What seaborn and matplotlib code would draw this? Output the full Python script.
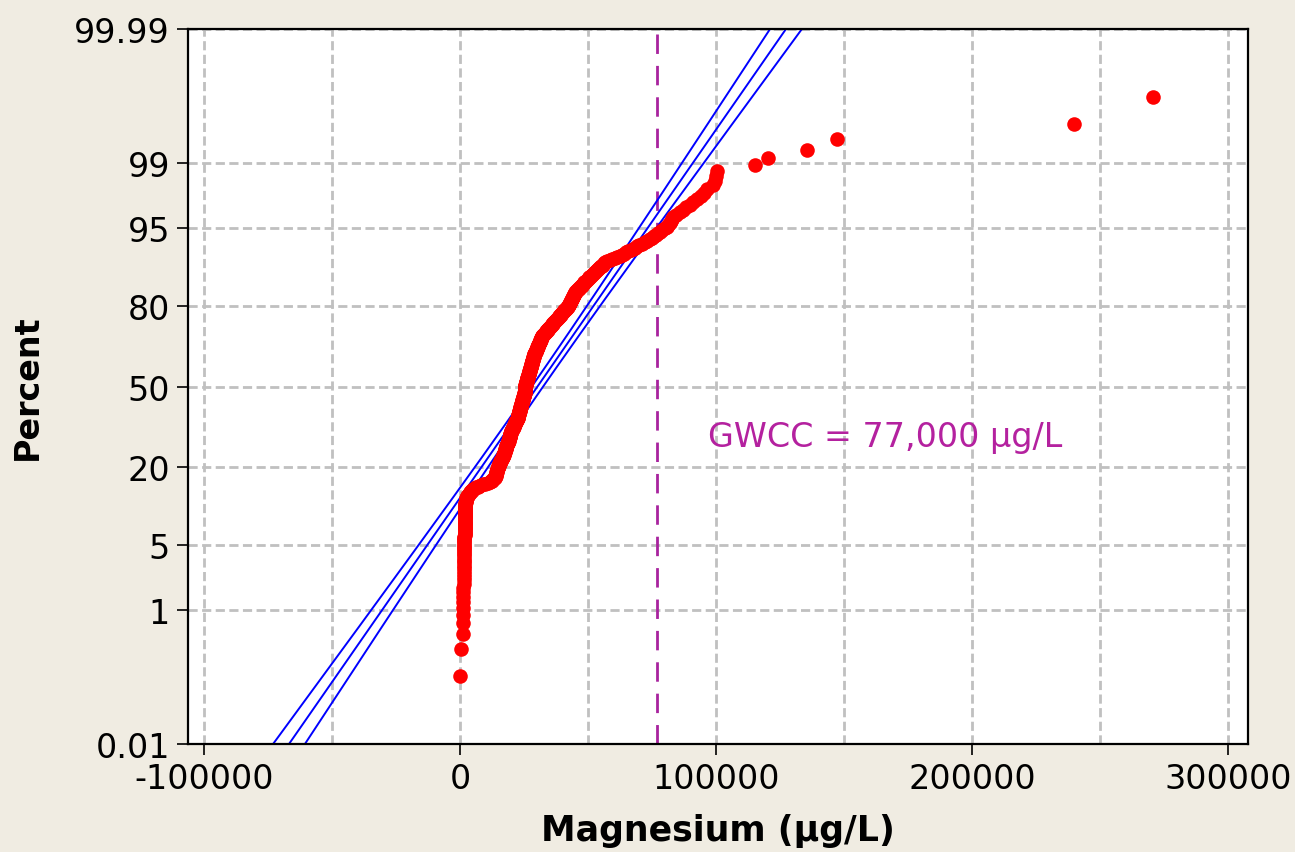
import numpy as np
import pandas as pd
import matplotlib
matplotlib.use("Agg")
import matplotlib.pyplot as plt
import seaborn as sns
from statistics import NormalDist
from matplotlib.ticker import FixedLocator, MultipleLocator

# ---------------- data (sorted magnesium concentrations, µg/L) ----------------
MG_VERTICAL = [0, 400, 1100,
    1200, 1200, 1250, 1300, 1300, 1300, 1350, 1400, 1400, 1400, 1400, 1450, 1450, 1500, 1500, 1500, 1500,
    1500, 1550, 1550, 1600, 1600, 1600, 1650, 1650, 1700, 1700,
    1700, 1700, 1750, 1750, 1750, 1800, 1800, 1800, 1800, 1850,
    1850, 1850, 1900, 1900, 1900, 1900, 1900, 1950, 1950, 1950,
    1950, 2000, 2000, 2000, 2000, 2000, 2000, 2050, 2050, 2100,
    2100, 2150, 2200, 2250, 2300, 2400]

MG_KNEE = [2600, 2800, 3000, 3200, 3500, 3700, 4000, 4200, 4500, 4800, 5100,
    5700, 6300, 7000, 7600, 8300, 9000,
    9900, 10800, 11700,
    12000, 12300, 12600, 12900, 13200, 13500, 13700,
    13800, 13900, 13950, 14000, 14100, 14150, 14200, 14300, 14400, 14450, 14500, 14600, 14700, 14800,
    14900, 15000, 15100, 15200, 15300, 15400, 15500, 15600, 15700, 15800, 15900, 16000, 16100, 16200,
    16300, 16500, 16600, 16800]

MG_CENTRAL = [16850, 16900, 17000, 17100, 17150, 17200, 17300, 17400, 17450, 17500,
    17600, 17650, 17700, 17800, 17850, 17900, 18000, 18050, 18100, 18200,
    18300, 18400, 18500, 18600, 18750,
    18800, 18850, 18900, 19000, 19050, 19100, 19150, 19200, 19300, 19350,
    19400, 19450, 19500, 19550, 19600, 19650, 19700, 19750, 19800, 19900,
    19950, 20000, 20100, 20200, 20300,
    20400, 20500, 20600, 20700, 20800, 20900, 21000, 21100, 21150, 21200,
    21300, 21400, 21500, 21550, 21600, 21700, 21800, 21900, 22000, 22100,
    22300,
    22350, 22400, 22450, 22500, 22550, 22600, 22650, 22700, 22750, 22800,
    22850, 22900, 22950, 23000, 23050, 23100, 23150, 23200, 23250, 23300,
    23350, 23400, 23450, 23500, 23550, 23600, 23650, 23700, 23750, 23800,
    23850, 23900, 23950, 24000, 24050, 24100, 24150, 24200, 24250, 24300,
    24350, 24400, 24450, 24500, 24550, 24600, 24650, 24700, 24750, 24800,
    24850, 24900, 24950, 25000, 25050, 25100, 25150, 25200, 25250, 25300,
    25300, 25300, 25350, 25350, 25350, 25350, 25400, 25400, 25400, 25400, 25400, 25400,
    25450, 25500, 25550, 25600, 25650, 25700, 25750, 25800, 25850, 25900,
    25950, 26000, 26050, 26100, 26150, 26200, 26250, 26300, 26350, 26400,
    26450, 26500, 26550, 26600, 26650, 26700, 26750, 26800, 26850, 26900,
    26950, 27000, 27050, 27100, 27150, 27200, 27300,
    27350, 27400, 27450, 27500, 27550, 27600, 27650, 27700, 27750, 27800,
    27850, 27900, 27950, 28000, 28050, 28100, 28150, 28200, 28250, 28300,
    28350, 28400, 28450, 28500, 28550, 28600, 28650, 28700, 28750, 28800,
    28850, 28900, 28950, 29000, 29100, 29200, 29300,
    29400, 29500, 29550, 29650, 29700, 29800, 29900, 30000, 30050, 30150,
    30250, 30300, 30400, 30500, 30550, 30650, 30750, 30800, 30900, 31000,
    31050, 31150, 31250, 31300, 31400, 31500, 31550, 31650, 31750, 31800,
    31850, 31900, 32000]

MG_UPPER = [32200, 32400, 32550, 32700, 32900, 33100, 33300, 33450, 33650, 33800,
    34000, 34200, 34400, 34550, 34750, 34900, 35100, 35300, 35450, 35650,
    35800, 36000, 36150, 36350, 36500, 36700,
    36900, 37100, 37300, 37500, 37700, 37900, 38150, 38350, 38550, 38750,
    38950, 39150, 39350, 39550, 39750, 40000, 40200,
    40400, 40600, 40800, 41000, 41200, 41400, 41600, 41800, 42000, 42200, 42400, 42600,
    42700, 42850, 42950, 43100, 43200, 43350, 43450, 43600, 43700, 43850,
    43950, 44100, 44200, 44350, 44450, 44600, 44750, 44900,
    45200, 45450, 45750, 46000, 46300, 46600, 46850, 47150, 47450, 47700, 48000,
    48300, 48600, 48950, 49250, 49550, 49850, 50200, 50500, 50800,
    51200, 51600, 52000, 52400, 52800, 53200, 53600, 54000, 54400, 54800, 55200, 55600, 55900, 56200, 56600,
    57500, 58500, 59500, 60500, 61500, 62500,
    63300, 64100, 65000, 65800, 66600, 67500, 68300, 69100,
    70100, 71100, 72200, 73200, 74200,
    75000, 75800, 76600, 77300, 78100,
    79000, 80000, 80900,
    81400, 81900, 82400, 82800, 83200,
    84500, 85800, 87100,
    88400, 89700, 91000,
    92500, 94000, 95200, 96500,
    98800, 99600, 100000, 100400]

MG_TAIL = [115200, 120300, 135500, 147300, 239800, 270700]

# fitted normal distribution and 95% CI
FIT_MEAN = 30250
FIT_SD = 26100
CONF_Z = 1.96

GWCC = 77000
GWCC_LABEL = "GWCC = 77,000 µg/L"

PCT_TICKS = [0.01, 1, 5, 20, 50, 80, 95, 99, 99.99]
PCT_LABELS = ["0.01", "1", "5", "20", "50", "80", "95", "99", "99.99"]
X_TICKS = [-100000, 0, 100000, 200000, 300000]
X_TICK_LABELS = ["-100000", "0", "100000", "200000", "300000"]

# ---------------- computations ----------------
nd = NormalDist()
mg = np.sort(np.array(MG_VERTICAL + MG_KNEE + MG_CENTRAL + MG_UPPER + MG_TAIL, dtype=float))
n = len(mg)
ranks = np.arange(1, n + 1)
pp = (ranks - 0.3) / (n + 0.4)          # Benard median ranks
zq = np.array([nd.inv_cdf(p) for p in pp])
df = pd.DataFrame({"Magnesium": mg, "z": zq})

zmin, zmax = nd.inv_cdf(0.0001), nd.inv_cdf(0.9999)
zline = np.linspace(zmin, zmax, 200)
half = CONF_Z * FIT_SD / np.sqrt(n) * np.sqrt(1 + zline ** 2 / 2)
fit = FIT_MEAN + zline * FIT_SD
lines = pd.DataFrame({
    "x": np.concatenate([fit - half, fit, fit + half]),
    "z": np.concatenate([zline, zline, zline]),
    "which": ["lower"] * len(zline) + ["fit"] * len(zline) + ["upper"] * len(zline),
})

# ---------------- plotting ----------------
BG = "#F0ECE2"
plt.rcParams["axes.unicode_minus"] = False
plt.rcParams["font.family"] = ["DejaVu Sans"]

fig = plt.figure(figsize=(12.95, 8.53), dpi=100, facecolor=BG)
ax = fig.add_axes([0.1452, 0.1266, 0.8185, 0.8382])
ax.set_facecolor("white")

ax.set_xlim(-106250, 307800)
ax.set_ylim(zmin, zmax)

# grid
ax.xaxis.set_major_locator(FixedLocator(X_TICKS))
ax.xaxis.set_minor_locator(MultipleLocator(50000))
ax.set_xticklabels(X_TICK_LABELS)
ax.set_yticks([nd.inv_cdf(p / 100) for p in PCT_TICKS])
ax.set_yticklabels(PCT_LABELS)
ax.grid(which="both", axis="x", color="#C0C0C0", linestyle=(0, (3.3, 1.6)), linewidth=2, zorder=0)
ax.grid(which="major", axis="y", color="#C0C0C0", linestyle=(0, (3.3, 1.6)), linewidth=2, zorder=0)
ax.set_axisbelow(True)

# GWCC line
ax.axvline(GWCC, color="#A8239E", linestyle=(0, (7, 4.3)), linewidth=2, zorder=1)

# fitted line and CI bounds
sns.lineplot(data=lines, x="x", y="z", units="which", estimator=None, sort=False,
             color="#0000FF", linewidth=1.4, ax=ax, zorder=2, legend=False)

# data points
sns.scatterplot(data=df, x="Magnesium", y="z", color="#FF0000", s=110, linewidth=0,
                ax=ax, zorder=3, legend=False)

ax.text(96900, nd.inv_cdf(0.30), GWCC_LABEL, color="#B4219F", fontsize=24,
        ha="left", va="center", zorder=4)

for sp in ax.spines.values():
    sp.set_color("black")
    sp.set_linewidth(1.6)

ax.tick_params(axis="both", which="major", direction="out", length=8, width=1.2,
               labelsize=24, pad=5, colors="black")
ax.tick_params(axis="x", which="minor", length=0)
ax.set_xlabel("Magnesium (µg/L)", fontsize=25, fontweight="bold", labelpad=13)
ax.set_ylabel("Percent", fontsize=24, fontweight="bold", labelpad=22)

fig.savefig("out.png", dpi=100, facecolor=BG)
